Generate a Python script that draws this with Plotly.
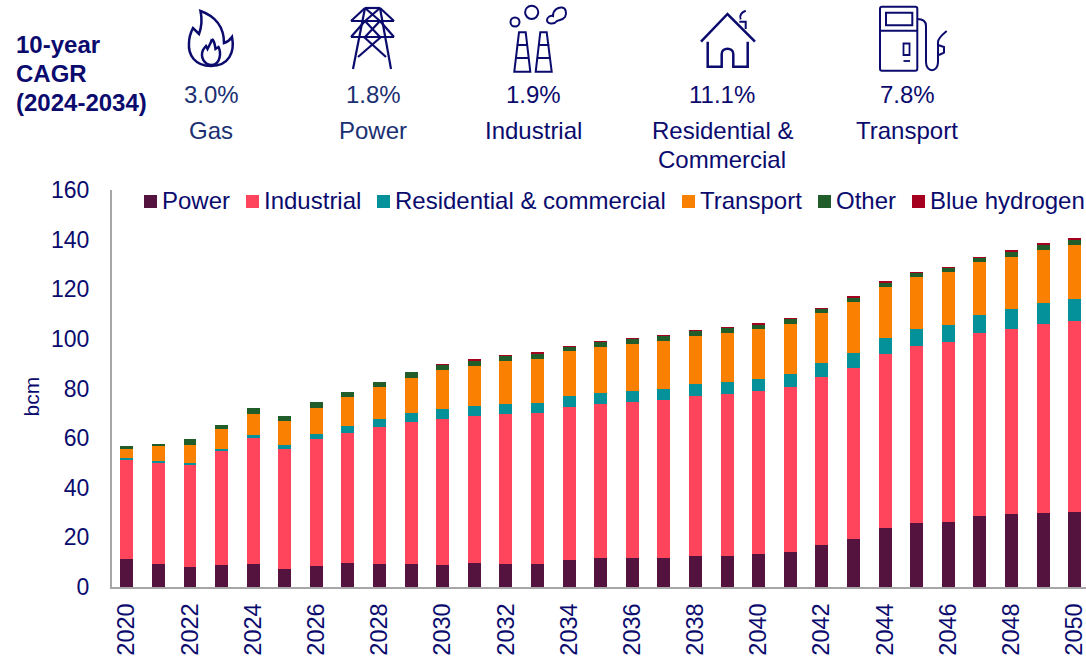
import plotly.graph_objects as go

W, H = 1086, 656
NAVY = "#0B0B6E"
NAVY2 = "#1B2F72"
FONT = "Liberation Sans"

years = [str(y) for y in range(2020, 2051)]
tick_years = years[::2]
names = ["Power", "Industrial", "Residential & commercial", "Transport", "Other", "Blue hydrogen"]
colors = ["#54133E", "#FF455B", "#05919A", "#F98000", "#215C2B", "#A6001F"]

power = [11.2, 9.4, 8.2, 8.8, 9.2, 7.4, 8.6, 9.6, 9.2, 9.3, 9.0, 9.5, 9.4, 9.2, 11.0, 11.5,
         11.5, 11.7, 12.6, 12.6, 13.4, 14.2, 17.0, 19.4, 23.6, 25.8, 26.2, 28.7, 29.3, 30.0, 30.3]
industrial = [39.8, 40.4, 40.8, 46.0, 50.7, 48.3, 50.9, 52.6, 55.2, 57.2, 58.9, 59.4, 60.4, 61.0, 61.6, 62.1,
              62.9, 63.5, 64.4, 65.1, 65.4, 66.5, 67.5, 68.8, 70.3, 71.5, 72.6, 73.7, 74.7, 76.0, 77.0]
residential = [1.0, 1.0, 1.0, 1.0, 1.5, 1.5, 2.1, 2.7, 3.3, 3.6, 3.8, 3.9, 4.0, 4.0, 4.2, 4.4,
               4.5, 4.5, 4.7, 5.0, 5.2, 5.2, 5.7, 6.0, 6.3, 6.5, 6.9, 7.1, 7.9, 8.3, 8.9]
transport = [4.0, 6.3, 7.4, 7.7, 8.5, 9.7, 10.5, 11.5, 12.8, 14.3, 15.7, 16.3, 17.3, 17.8, 18.2, 18.9,
             18.9, 19.5, 19.6, 19.7, 19.8, 20.1, 20.2, 20.5, 20.7, 21.0, 21.2, 21.3, 21.3, 21.6, 21.8]
other = [0.7, 0.5, 2.4, 1.9, 2.2, 2.1, 2.3, 2.3, 2.2, 2.2, 2.1, 2.3, 2.0, 2.3, 2.0, 2.1,
         2.2, 2.0, 2.1, 2.0, 2.1, 2.2, 1.9, 2.1, 1.9, 1.8, 1.9, 2.0, 2.1, 2.0, 1.8]
blue_hydrogen = [0, 0, 0, 0, 0, 0, 0, 0, 0, 0, 0.1, 0.1, 0.1, 0.1, 0.1, 0.1,
                 0.1, 0.1, 0.1, 0.1, 0.1, 0.1, 0.1, 0.1, 0.15, 0.2, 0.1, 0.1, 0.4, 0.7, 0.9]
series = [power, industrial, residential, transport, other, blue_hydrogen]

cagr_values = ["3.0%", "1.8%", "1.9%", "11.1%", "7.8%"]
cagr_labels = ["Gas", "Power", "Industrial", "Residential &<br>Commercial", "Transport"]
cagr_centres = [211, 373, 533, 722, 907]
cagr_colours = [NAVY2, NAVY2, NAVY, NAVY, NAVY]

fig = go.Figure()
for name, col, vals in zip(names, colors, series):
    fig.add_bar(x=years, y=vals, name=name, marker=dict(color=col, line=dict(width=0)), width=0.41, showlegend=False)


def fx(x):
    return x / W


def fy(y):
    return 1 - y / H


def txt(x, y, s, size=22, color=NAVY, anchor="center", bold=False, angle=0):
    fig.add_annotation(xref="paper", yref="paper", x=fx(x), y=fy(y), text=f"<b>{s}</b>" if bold else s,
                       showarrow=False, xanchor=anchor, yanchor="middle", textangle=angle,
                       font=dict(family=FONT, size=size, color=color), borderpad=0, borderwidth=0)


def path(cmds, width=2.2, fill=None, color=NAVY):
    out = []
    for c in cmds:
        if isinstance(c, str):
            out.append(c)
        else:
            out.append(f"{fx(c[0]):.5f},{fy(c[1]):.5f}")
    fig.add_shape(type="path", xref="paper", yref="paper", path=" ".join(out),
                  line=dict(color=color, width=width), fillcolor=fill or "rgba(0,0,0,0)")


def circle(cx, cy, r, width=2):
    fig.add_shape(type="circle", xref="paper", yref="paper", x0=fx(cx - r), x1=fx(cx + r), y0=fy(cy + r), y1=fy(cy - r),
                  line=dict(color=NAVY, width=width))


# Legend (small square swatches)
legend_x = [144, 246, 377, 682, 818, 912]
for x, name, col in zip(legend_x, names, colors):
    fig.add_shape(type="rect", xref="paper", yref="paper", x0=fx(x), x1=fx(x + 13), y0=fy(208), y1=fy(195),
                  fillcolor=col, line=dict(width=0))
    txt(x + 18, 200.5, name, size=24, anchor="left")

# Header text
for s, y in zip(["10-year", "CAGR", "(2024-2034)"], [44, 73, 102]):
    txt(16, y, s, size=24, anchor="left", bold=True)
for v, lab, cx, c in zip(cagr_values, cagr_labels, cagr_centres, cagr_colours):
    txt(cx, 95, v, size=24, color=c)
    parts = lab.split("<br>")
    for i, p in enumerate(parts):
        txt(cx, 130 + 29 * i, p, size=24, color=c)

# y axis title
txt(30.5, 397, "bcm", size=21, angle=-90)

# Flame icon
path(["M", (200.5, 11), "C", (215, 16), (224, 27), (224, 43), "C", (227, 42), (230, 40), (232, 37),
      "C", (235, 52), (229, 66), (211, 66), "C", (195, 66), (188, 55), (189, 43), "C", (189, 37), (191, 32), (193, 28),
      "L", (199, 34), "C", (202, 26), (202, 18), (200.5, 11), "Z"], width=2.5)
path(["M", (212, 39), "C", (215, 42), (215, 46), (215.5, 49), "L", (218.5, 47), "C", (221, 52), (221, 64), (212, 65),
      "C", (204, 65), (200, 57), (203, 50), "C", (204, 48), (205, 47), (206, 46), "L", (207.5, 49),
      "C", (209, 46), (211, 43), (212, 39)], width=2.5)

# Pylon icon
pylon = [((365, 8), (380, 8)), ((351, 21), (394, 21)), ((351, 37), (394, 37)), ((365, 8), (351, 21)), ((380, 8), (394, 21)),
         ((365, 21), (351, 37)), ((380, 21), (394, 37)), ((365, 8), (353, 69)), ((380, 8), (391, 69)),
         ((365, 8), (380, 21)), ((380, 8), (365, 21)), ((365, 21), (380, 37)), ((380, 21), (365, 37)),
         ((364, 37), (386, 57)), ((381, 37), (358, 57))]
for a, b in pylon:
    path(["M", a, "L", b], width=2.2)

# Factory icon
circle(515, 22, 4.5)
circle(531.7, 12.3, 6.6)
path(["M", (553, 16), "C", (553, 10), (558, 7), (562, 7.5), "C", (566, 8), (567, 13), (565, 17), "C", (563, 20), (559, 20), (557, 21),
      "C", (554, 25), (547, 24), (547, 20), "C", (547, 17), (551, 15), (553, 16), "Z"], width=2)
for xs in [(514.3, 519, 525.7, 530.3), (535.7, 540.3, 546.7, 551.7)]:
    path(["M", (xs[0], 71.7), "L", (xs[1], 32.3), "L", (xs[2], 32.3), "L", (xs[3], 71.7), "Z"], width=2)
    path(["M", (xs[0] + 2.5, 45), "L", (xs[3] - 2.5, 45)], width=2)
    path(["M", (xs[0] + 1.2, 58), "L", (xs[3] - 1.2, 58)], width=2)

# House icon
path(["M", (701, 41.7), "L", (727.5, 14), "L", (755, 41.7)], width=2.5)
path(["M", (707.7, 41.7), "L", (707.7, 66.7), "L", (721.7, 66.7), "L", (721.7, 54), "C", (721.7, 47), (733.3, 47), (733.3, 54),
      "L", (733.3, 66.7), "L", (747.7, 66.7), "L", (747.7, 41.7)], width=2.5)
path(["M", (739.3, 21.7), "L", (745.7, 21.7), "L", (745.7, 29)], width=2)
path(["M", (745.7, 10.7), "C", (742, 12), (739, 15), (740.7, 19.3)], width=2)

# Fuel pump icon
path(["M", (882, 6.7), "L", (915.3, 6.7), "Q", (917.3, 6.7), (917.3, 8.7), "L", (917.3, 68.7), "Q", (917.3, 70.7), (915.3, 70.7),
      "L", (882, 70.7), "Q", (880, 70.7), (880, 68.7), "L", (880, 8.7), "Q", (880, 6.7), (882, 6.7), "Z"], width=2)
path(["M", (880, 30.7), "L", (917.3, 30.7)], width=2)
path(["M", (886, 12.7), "L", (912.3, 12.7), "L", (912.3, 25.3), "L", (886, 25.3), "Z"], width=2)
path(["M", (903.5, 43.5), "L", (909.5, 43.5), "L", (909.5, 55), "L", (903.5, 55), "Z"], width=1.8)
path(["M", (903.5, 61), "L", (910, 61)], width=1.8)
path(["M", (917.3, 19), "C", (923, 19), (926, 21), (926, 26), "L", (926, 62), "C", (926, 73), (938, 73), (938, 62),
      "L", (938, 42), "C", (938, 38), (942, 35), (946.7, 31)], width=2)
path(["M", (938, 45), "L", (944, 47), "L", (944, 52.7), "L", (939, 55)], width=2)

fig.update_layout(
    width=W, height=H, barmode="stack", plot_bgcolor="white", paper_bgcolor="white",
    margin=dict(l=0, r=0, t=0, b=0, autoexpand=False), showlegend=False, bargap=0.59,
    font=dict(family=FONT, color=NAVY, size=23),
    xaxis=dict(domain=[112 / W, 1], type="category", range=[-0.468, 30.36], tickmode="array", tickvals=tick_years,
               ticktext=tick_years, tickangle=-90, showgrid=False, zeroline=False, showline=True,
               linecolor="#A6A6A6", linewidth=2, ticks="outside", ticklen=5, tickcolor="rgba(0,0,0,0)",
               tickfont=dict(family=FONT, size=23.5, color=NAVY)),
    yaxis=dict(domain=[1 - 587 / H, 1 - 190 / H], range=[0, 160], dtick=20, showgrid=False, zeroline=False, showline=True,
               linecolor="#A6A6A6", linewidth=2, ticks="outside", ticklen=16, tickcolor="rgba(0,0,0,0)",
               tickfont=dict(family=FONT, size=23, color=NAVY)),
)

fig.write_html("out.html", config={"displayModeBar": False},
               post_script="document.body.style.margin='0';document.body.style.overflow='hidden';")
